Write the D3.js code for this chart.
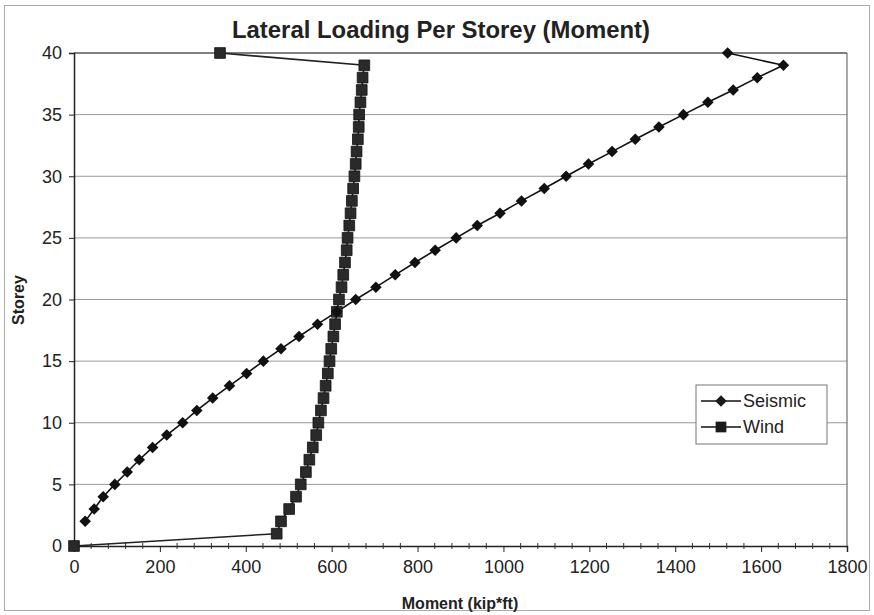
<!DOCTYPE html>
<html>
<head>
<meta charset="utf-8">
<script src="https://cdn.jsdelivr.net/npm/d3@7"></script>
<style>
  body { margin: 0; background: #fff; }
  text { font-family: "Liberation Sans", Arial, sans-serif; }
</style>
</head>
<body>
<svg class="svg-chart"></svg>
<script>
// storeys and moments (kip*ft)
const seismicStoreys = [2,3,4,5,6,7,8,9,10,11,12,13,14,15,16,17,18,19,20,21,22,23,24,25,26,27,28,29,30,31,32,33,34,35,36,37,38,39,40]
const seismicMoment = [26,47,68,95,124,152,183,216,253,286,323,362,402,441,482,524,567,612,656,703,748,794,841,890,939,992,1042,1095,1146,1198,1253,1307,1362,1419,1476,1535,1591,1652,1522]
const windStoreys = [0,1,2,3,4,5,6,7,8,9,10,11,12,13,14,15,16,17,18,19,20,21,22,23,24,25,26,27,28,29,30,31,32,33,34,35,36,37,38,39,40]
const windMoment = [0,472,482,501,517,528,540,548,556,564,569,575,581,586,591,595,599,604,608,612,617,623,627,631,635,637,641,644,647,650,653,656,658,661,663,664,667,670,672,676,340]
const xTicks = [0,200,400,600,800,1000,1200,1400,1600,1800]
const yTicks = [0,5,10,15,20,25,30,35,40]

const W = 874, H = 615
var margin = { top: 53, right: 27, bottom: 69, left: 74 }
var width = W - margin.left - margin.right
var height = H - margin.top - margin.bottom

var svg = d3.select('.svg-chart')
    .attr('width', W)
    .attr('height', H)

// outer chart border
svg.append('rect')
    .attr('x', 4.5).attr('y', 5.5)
    .attr('width', W - 9).attr('height', H - 10)
    .attr('fill', 'none')
    .attr('stroke', '#aaa')

var x_scale = d3.scaleLinear().domain([0, 1800]).range([0, width])
var y_scale = d3.scaleLinear().domain([0, 40]).range([height, 0])

var g = svg.append('g')
    .attr('transform', 'translate(' + margin.left + ',' + margin.top + ')')

//gridlines
g.append('g').selectAll('line')
    .data(yTicks.slice(1))
    .join('line')
    .attr('x1', 0).attr('x2', width)
    .attr('y1', d => y_scale(d)).attr('y2', d => y_scale(d))
    .attr('stroke', d => d == 40 ? '#555' : '#999')
    .attr('stroke-width', d => d == 40 ? 1.5 : 1)

// plot area right edge
g.append('line')
    .attr('x1', width).attr('x2', width)
    .attr('y1', 0).attr('y2', height)
    .attr('stroke', '#555')

//Axes
var x_axis = d3.axisBottom(x_scale)
    .tickValues(xTicks)
    .tickFormat(d3.format('d'))
    .tickSize(6)
    .tickPadding(8)
var y_axis = d3.axisLeft(y_scale)
    .tickValues(yTicks)
    .tickFormat(d3.format('d'))
    .tickSize(5)
    .tickPadding(7)

var gx = g.append('g')
    .attr('transform', 'translate(0,' + height + ')')
    .call(x_axis)
gx.select('.domain').attr('stroke', '#222').attr('stroke-width', 1.5)
gx.selectAll('.tick line').attr('stroke', '#222')
gx.selectAll('text').attr('font-size', 18).attr('fill', '#222')
    .attr('font-family', '"Liberation Sans", Arial, sans-serif')

// minor ticks on x axis
g.append('g').selectAll('line')
    .data(d3.range(40, 1800, 40).filter(d => d % 200 != 0))
    .join('line')
    .attr('x1', d => x_scale(d)).attr('x2', d => x_scale(d))
    .attr('y1', height - 3).attr('y2', height + 3)
    .attr('stroke', '#333')

var gy = g.append('g').call(y_axis)
gy.select('.domain').attr('stroke', '#222').attr('stroke-width', 1.5)
gy.selectAll('.tick line').attr('stroke', '#222')
gy.selectAll('text').attr('font-size', 18).attr('fill', '#222')
    .attr('font-family', '"Liberation Sans", Arial, sans-serif')

//Title and axis labels
svg.append('text')
    .attr('x', 441).attr('y', 38)
    .attr('text-anchor', 'middle')
    .attr('font-size', 24)
    .attr('font-weight', 'bold')
    .attr('fill', '#222')
    .attr('textLength', 418)
    .attr('lengthAdjust', 'spacingAndGlyphs')
    .text('Lateral Loading Per Storey (Moment)')
svg.append('text')
    .attr('x', 460).attr('y', 609)
    .attr('text-anchor', 'middle')
    .attr('font-size', 16)
    .attr('font-weight', 'bold')
    .attr('fill', '#222')
    .text('Moment (kip*ft)')
svg.append('text')
    .attr('transform', 'translate(24,300) rotate(-90)')
    .attr('text-anchor', 'middle')
    .attr('font-size', 16)
    .attr('font-weight', 'bold')
    .attr('fill', '#222')
    .text('Storey')

//Series
var seismicData = seismicStoreys.map((s, i) => ({ storey: s, moment: seismicMoment[i] }))
var windData = windStoreys.map((s, i) => ({ storey: s, moment: windMoment[i] }))

var line = d3.line()
    .x(d => x_scale(d.moment))
    .y(d => y_scale(d.storey))

g.append('path')
    .attr('d', line(windData))
    .attr('stroke', '#222')
    .attr('stroke-width', 1.6)
    .attr('fill', 'none')
g.append('path')
    .attr('d', line(seismicData))
    .attr('stroke', '#111')
    .attr('stroke-width', 1.6)
    .attr('fill', 'none')

var diamond = d3.symbol().type(d3.symbolDiamond2).size(85)
var square = d3.symbol().type(d3.symbolSquare).size(115)

g.append('g').selectAll('path')
    .data(windData)
    .join('path')
    .attr('d', square)
    .attr('transform', d => 'translate(' + x_scale(d.moment) + ',' + y_scale(d.storey) + ')')
    .attr('fill', '#2a2a2a')
    .attr('stroke', '#111')
    .attr('stroke-width', 0.8)

g.append('g').selectAll('path')
    .data(seismicData)
    .join('path')
    .attr('d', diamond)
    .attr('transform', d => 'translate(' + x_scale(d.moment) + ',' + y_scale(d.storey) + ')')
    .attr('fill', '#111')

//Legend
var legend = svg.append('g').attr('transform', 'translate(696,385)')
legend.append('rect')
    .attr('width', 131).attr('height', 59)
    .attr('fill', '#fff')
    .attr('stroke', '#777')
var items = [{ name: 'Seismic', sym: diamond, y: 16 }, { name: 'Wind', sym: square, y: 42 }]
items.forEach(it => {
    legend.append('line')
        .attr('x1', 5).attr('x2', 45)
        .attr('y1', it.y).attr('y2', it.y)
        .attr('stroke', '#111').attr('stroke-width', 1.5)
    legend.append('path')
        .attr('d', it.sym)
        .attr('transform', 'translate(25,' + it.y + ')')
        .attr('fill', '#1a1a1a')
    legend.append('text')
        .attr('x', 47).attr('y', it.y + 6)
        .attr('font-size', 18)
        .attr('fill', '#222')
        .text(it.name)
})
</script>
</body>
</html>
